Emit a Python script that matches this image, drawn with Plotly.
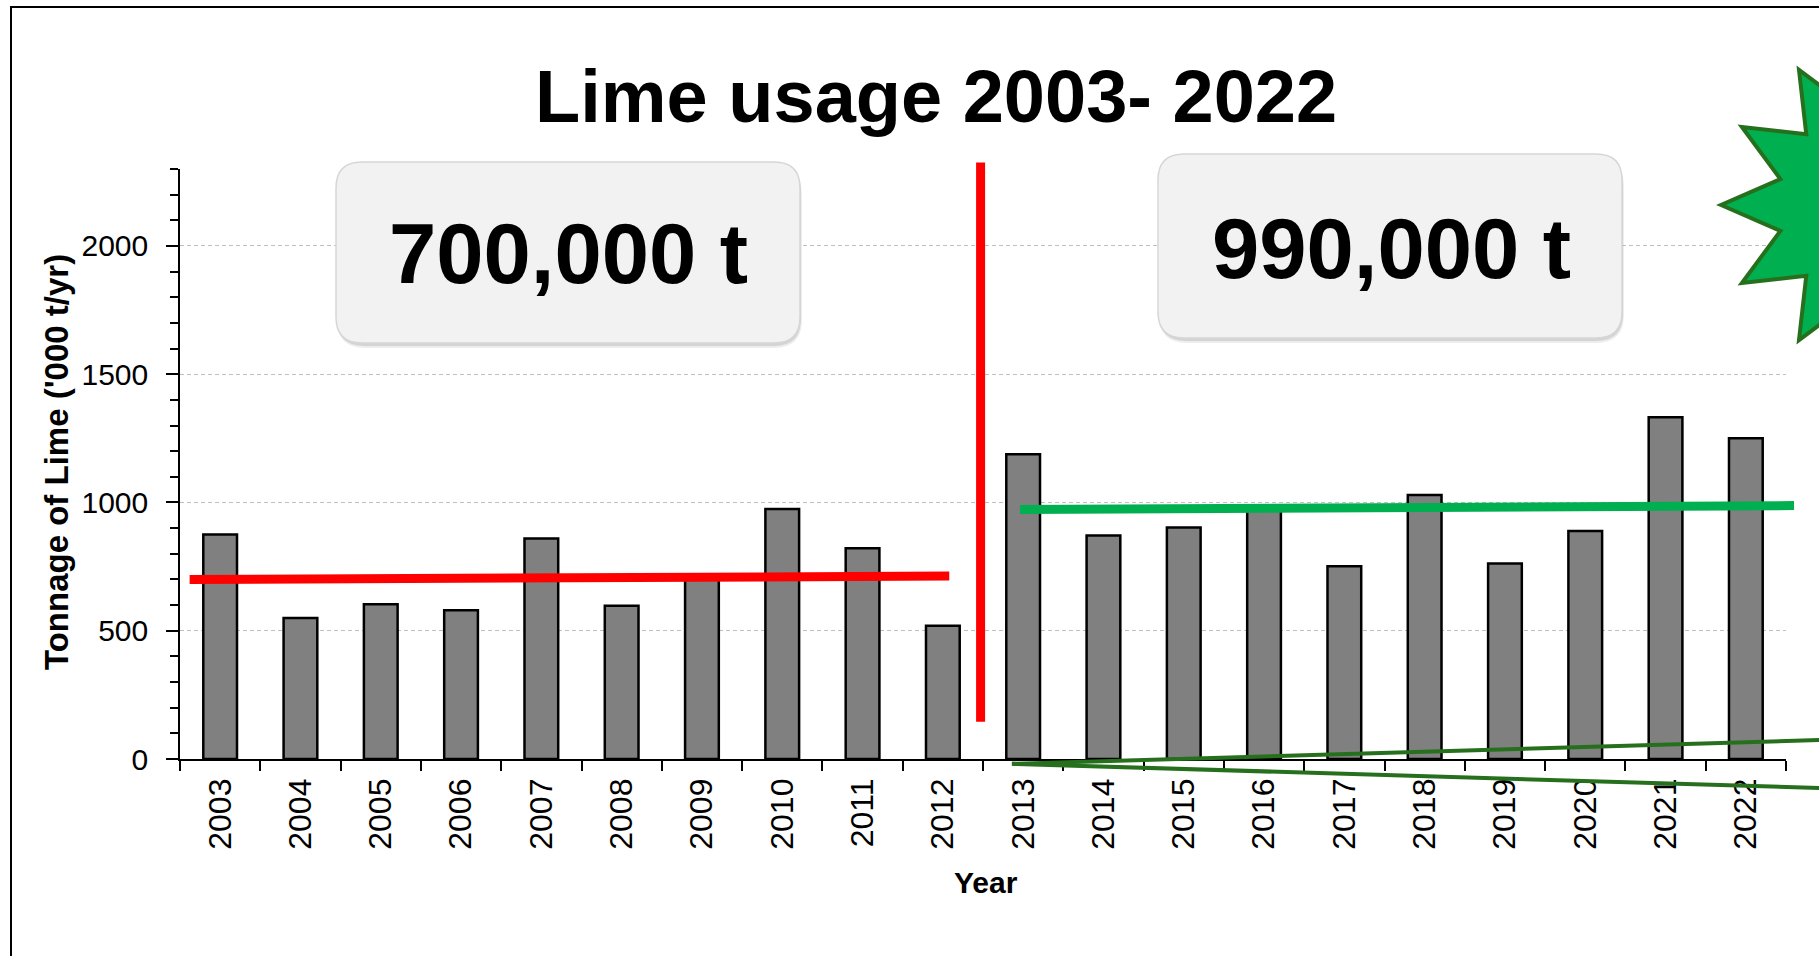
import plotly.graph_objects as go

# ---------------- data ----------------
years = [str(y) for y in range(2003, 2023)]
lime_kt = [875, 550, 603, 580, 860, 597, 700, 975, 822, 519,
           1188, 871, 902, 980, 751, 1029, 762, 889, 1332, 1250]
y_major_ticks = [0, 500, 1000, 1500, 2000]
pre_avg = [700, 713]      # red average level 2003-2012 (start, end)
post_avg = [973, 988]     # green average level 2013-2022 (start, end)
pre_label = "700,000 t"
post_label = "990,000 t"
title_text = "Lime usage 2003- 2022"
y_title = "Tonnage of Lime ('000 t/yr)"
x_title = "Year"

# ---------------- geometry ----------------
W, H = 1819, 956
PL, PR, PT, PB = 180, 1786, 169, 759
YMAX = 2300
N = len(years)
FONT = "Liberation Sans, Arial, Helvetica, sans-serif"


def px(x):
    return (x - PL) / (PR - PL)


def py(y):
    return (PB - y) / (PB - PT)


def cx(i):
    return (i + 0.5) / N


def vy(v):
    return v / YMAX


def rrect(x0, y0, x1, y1, r):
    pts = [
        ("M", [(x0 + r, y0)]), ("L", [(x1 - r, y0)]), ("Q", [(x1, y0), (x1, y0 + r)]),
        ("L", [(x1, y1 - r)]), ("Q", [(x1, y1), (x1 - r, y1)]),
        ("L", [(x0 + r, y1)]), ("Q", [(x0, y1), (x0, y1 - r)]),
        ("L", [(x0, y0 + r)]), ("Q", [(x0, y0), (x0 + r, y0)]),
    ]
    s = ""
    for cmd, ps in pts:
        s += cmd + " " + " ".join(f"{px(a):.5f},{py(b):.5f}" for a, b in ps) + " "
    return s + "Z"


def star_path(ccx, ccy, R, r, n):
    import math
    s = ""
    for k in range(2 * n):
        a = math.pi + k * math.pi / n
        rad = R if k % 2 == 0 else r
        x = ccx + rad * math.cos(a)
        y = ccy - rad * math.sin(a)
        s += ("M " if k == 0 else "L ") + f"{px(x):.5f},{py(y):.5f} "
    return s + "Z"


fig = go.Figure()
fig.add_trace(go.Bar(
    x=years, y=lime_kt,
    marker=dict(color="#808080", line=dict(color="black", width=2.5)),
))

shapes = []
# outer frame (left + top)
shapes.append(dict(type="path", xref="paper", yref="paper",
                   path=f"M {px(11)},{py(H + 20)} L {px(11)},{py(7)} L {px(W + 20)},{py(7)}",
                   line=dict(color="black", width=2)))

# boxes with shadow
for (x0, y0, x1, y1) in [(336, 162, 800, 343), (1158, 154, 1622, 338)]:
    shapes.append(dict(type="path", xref="paper", yref="paper", path=rrect(x0 + 1, y0 + 5, x1 + 2, y1 + 5, 28),
                       fillcolor="rgba(0,0,0,0.07)", line=dict(width=0)))
    shapes.append(dict(type="path", xref="paper", yref="paper", path=rrect(x0 + 1, y0 + 3, x1 + 1, y1 + 3, 27),
                       fillcolor="rgba(0,0,0,0.10)", line=dict(width=0)))
    shapes.append(dict(type="path", xref="paper", yref="paper", path=rrect(x0, y0, x1, y1, 26),
                       fillcolor="#F2F2F2", line=dict(color="#D6D6D6", width=1.5)))

# red average line (pre-2013)
shapes.append(dict(type="line", xref="paper", yref="paper",
                   x0=cx(-0.38), y0=vy(pre_avg[0]), x1=cx(9.08), y1=vy(pre_avg[1]),
                   line=dict(color="#FF0000", width=9)))
# red vertical divider
shapes.append(dict(type="line", xref="paper", yref="paper",
                   x0=cx(9.47), y0=vy(145), x1=cx(9.47), y1=vy(2325),
                   line=dict(color="#FF0000", width=9)))
# green average line (2013 on)
shapes.append(dict(type="line", xref="paper", yref="paper",
                   x0=cx(9.96), y0=vy(post_avg[0]), x1=cx(19.6), y1=vy(post_avg[1]),
                   line=dict(color="#00B050", width=9)))
# dark green callout lines
for yend in (74, -113):
    shapes.append(dict(type="line", xref="paper", yref="paper",
                       x0=cx(9.86), y0=vy(-19), x1=px(W + 2), y1=vy(yend),
                       line=dict(color="#26701D", width=4)))
# star burst
shapes.append(dict(type="path", xref="paper", yref="paper",
                   path=star_path(1877, 205, 156, 100, 12),
                   fillcolor="#00B050", line=dict(color="#26701D", width=4)))

annotations = [
    dict(text=f"<b>{title_text}</b>", x=px(936), y=py(97), font=dict(size=74, color="black", family=FONT)),
    dict(text=f"<b>{pre_label}</b>", x=px(568), y=py(254), font=dict(size=85, color="black", family=FONT)),
    dict(text=f"<b>{post_label}</b>", x=px(1391), y=py(248), font=dict(size=85, color="black", family=FONT)),
    dict(text=f"<b>{y_title}</b>", x=px(56), y=py(462), textangle=-90, font=dict(size=33, color="black", family=FONT)),
    dict(text=f"<b>{x_title}</b>", x=px(986), y=py(882), font=dict(size=30, color="black", family=FONT)),
]
for a in annotations:
    a.update(xref="paper", yref="paper", showarrow=False, xanchor="center", yanchor="middle")

fig.update_layout(
    width=W, height=H,
    margin=dict(l=PL, r=W - PR, t=PT, b=H - PB, pad=0),
    paper_bgcolor="white", plot_bgcolor="white",
    font=dict(family=FONT, color="black"),
    showlegend=False,
    bargap=0.58,
    shapes=shapes,
    annotations=annotations,
)
fig.update_xaxes(
    type="category", showline=True, linecolor="black", linewidth=1.5,
    ticks="outside", tickson="boundaries", ticklen=10, tickwidth=1.5, tickcolor="black",
    tickangle=-90, tickfont=dict(size=32, color="black", family=FONT), ticklabelstandoff=5,
    showgrid=False, zeroline=False,
)
fig.update_yaxes(
    range=[0, YMAX], tickvals=y_major_ticks, showline=True, linecolor="black", linewidth=1.5,
    ticks="outside", ticklen=12, tickwidth=1.5, tickcolor="black",
    tickfont=dict(size=30, color="black", family=FONT), ticklabelstandoff=12,
    minor=dict(dtick=100, tick0=0, ticks="outside", ticklen=8, tickwidth=1.5, tickcolor="black", showgrid=False),
    showgrid=True, gridcolor="#BFBFBF", gridwidth=1, griddash="4px,3px",
    zeroline=False,
)

fig.write_html("out.html", config={"displayModeBar": False},
               post_script="document.body.style.margin='0';document.body.style.overflow='hidden';")
